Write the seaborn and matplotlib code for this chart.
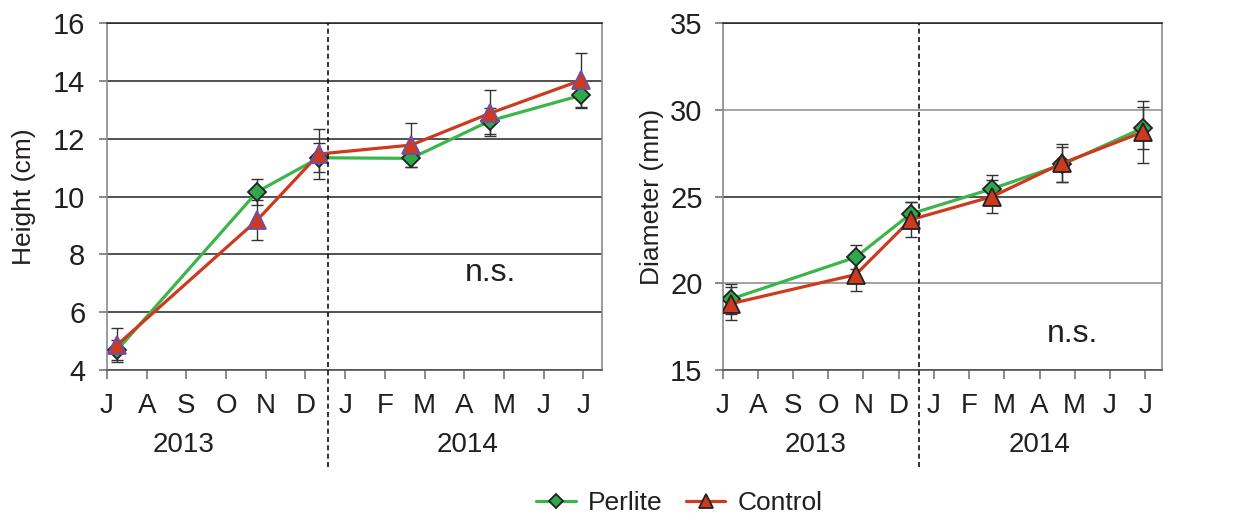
import matplotlib
matplotlib.use("Agg")
import matplotlib.pyplot as plt
import seaborn as sns
import numpy as np

# ---- data ----
month_labels = ["J", "A", "S", "O", "N", "D", "J", "F", "M", "A", "M", "J", "J"]
sample_month = [0.25, 3.78, 5.34, 7.66, 9.65, 11.94]   # months since 1 July 2013

height_perlite = [4.68, 10.16, 11.34, 11.32, 12.62, 13.50]
height_perlite_se = [0.35, 0.45, 0.50, 0.30, 0.45, 0.40]
height_control = [4.86, 9.18, 11.47, 11.78, 12.88, 14.02]
height_control_se = [0.60, 0.70, 0.85, 0.75, 0.80, 0.95]

diam_perlite = [19.1, 21.5, 24.0, 25.45, 26.85, 28.95]
diam_perlite_se = [0.85, 0.70, 0.66, 0.80, 1.00, 1.20]
diam_control = [18.83, 20.5, 23.66, 25.0, 26.92, 28.72]
diam_control_se = [0.95, 0.95, 1.00, 0.96, 1.10, 1.80]

year_labels = ["2013", "2014"]

# ---- style ----
sns.set_theme(style="white")
plt.rcParams["font.family"] = ["Liberation Sans", "DejaVu Sans"]
TXT = "#231f20"
GREEN_LINE = "#3cb54a"
GREEN_FILL = "#2ea84a"
RED = "#cd3a1e"

fig = plt.figure(figsize=(12.37, 5.21), dpi=100)
ax1 = fig.add_axes([0.0865, 0.2898, 0.4002, 0.666])
ax2 = fig.add_axes([0.5842, 0.2898, 0.3549, 0.666])


def panel(ax, perl, perl_se, ctrl, ctrl_se, ylim, yticks, ylabel, ctrl_edge,
          grid_colors, year_x, ns_xy, ylabelpad, ytickpad):
    x = np.array(sample_month)
    # error bars (behind markers)
    ax.errorbar(x, perl, yerr=perl_se, fmt="none", ecolor="#333333",
                elinewidth=1.0, capsize=4, capthick=1.0, zorder=2)
    ax.errorbar(x, ctrl, yerr=ctrl_se, fmt="none", ecolor="#333333",
                elinewidth=1.0, capsize=4, capthick=1.0, zorder=2)
    sns.lineplot(x=x, y=perl, ax=ax, color=GREEN_LINE, linewidth=2.3,
                 marker="D", markersize=9.5, markerfacecolor=GREEN_FILL,
                 markeredgecolor="#222222", markeredgewidth=1.3,
                 label="Perlite", errorbar=None, zorder=3)
    sns.lineplot(x=x, y=ctrl, ax=ax, color=RED, linewidth=2.3,
                 marker="^", markersize=12.5, markerfacecolor=RED,
                 markeredgecolor=ctrl_edge, markeredgewidth=1.3,
                 label="Control", errorbar=None, zorder=4)

    ax.set_xlim(0, 12.47)
    ax.set_ylim(*ylim)
    ax.set_xticks(range(len(month_labels)))
    ax.set_xticklabels(month_labels)
    ax.set_yticks(yticks)
    ax.set_yticklabels([str(v) for v in yticks])
    ax.tick_params(axis="x", direction="out", length=6.5, width=1.2,
                   color="#777777", labelsize=20, labelcolor=TXT, pad=10,
                   bottom=True)
    ax.tick_params(axis="y", direction="out", length=5.5, width=1.2,
                   color="#777777", labelsize=21, labelcolor=TXT,
                   pad=ytickpad, left=True)
    ax.set_xlabel("")
    ax.set_ylabel(ylabel, fontsize=19, color=TXT, labelpad=ylabelpad)

    # horizontal gridlines
    ax.yaxis.grid(True, linewidth=1.1)
    ax.set_axisbelow(True)
    for gl, c in zip(ax.get_ygridlines(), grid_colors):
        gl.set_color(c)

    for s in ["left", "right"]:
        ax.spines[s].set_color("#8a8a8a")
        ax.spines[s].set_linewidth(1.2)
    ax.spines["top"].set_color("#222222")
    ax.spines["top"].set_linewidth(1.1)
    ax.spines["bottom"].set_color("#555555")
    ax.spines["bottom"].set_linewidth(1.2)

    # year separator
    ax.axvline(5.57, ymin=-0.28, ymax=1.0, color="#111111", linewidth=1.2,
               linestyle=(0, (3, 2)), clip_on=False, zorder=5)

    for xy, yl in zip(year_x, year_labels):
        ax.text(xy, -0.215, yl, transform=ax.get_xaxis_transform(),
                ha="center", va="center", fontsize=20, color=TXT)
    ax.text(ns_xy[0], ns_xy[1], "n.s.", ha="center", va="center",
            fontsize=23, color=TXT)
    if ax.get_legend() is not None:
        ax.get_legend().remove()


panel(ax1, height_perlite, height_perlite_se, height_control, height_control_se,
      (4, 16), [4, 6, 8, 10, 12, 14, 16], "Height (cm)", "#6a4fb0",
      ["#222222"] * 7, [1.93, 9.09], (9.65, 7.35), 12, 10)
panel(ax2, diam_perlite, diam_perlite_se, diam_control, diam_control_se,
      (15, 35), [15, 20, 25, 30, 35], "Diameter (mm)", "#222222",
      ["#222222", "#8a8a8a", "#222222", "#8a8a8a", "#222222"],
      [2.63, 9.0], (9.95, 17.05), 4, 9)

handles, labels = ax2.get_legend_handles_labels()
if not handles:
    handles = ax2.get_lines()[-2:]
    labels = ["Perlite", "Control"]
leg = fig.legend(handles[:2], labels[:2], loc="center",
                 bbox_to_anchor=(0.549, 0.035), ncol=2, frameon=False,
                 fontsize=19, handlelength=1.5, handletextpad=0.45,
                 columnspacing=0.9, markerscale=0.8)
for t in leg.get_texts():
    t.set_color(TXT)

fig.savefig("out.png", dpi=100)
